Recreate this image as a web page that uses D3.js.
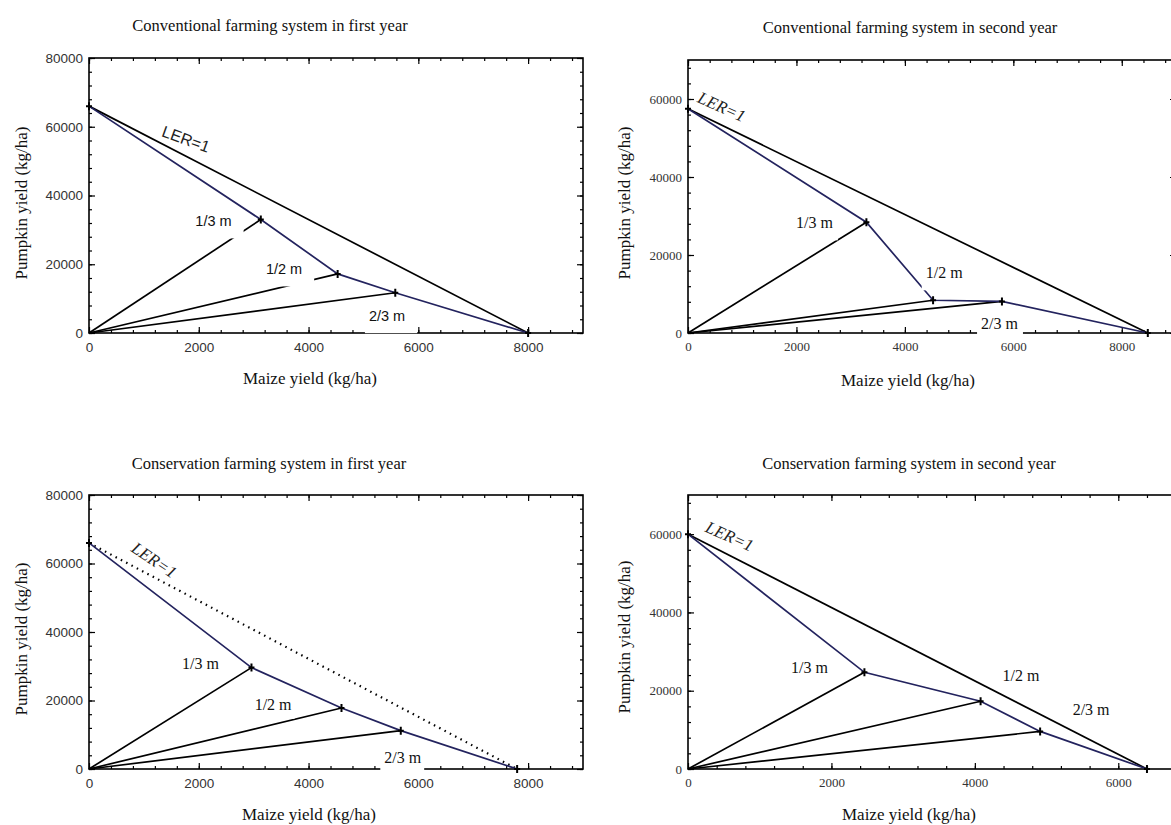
<!DOCTYPE html>
<html><head><meta charset="utf-8">
<script src="https://cdn.jsdelivr.net/npm/d3@7"></script>
<style>body{margin:0;background:#fff}svg{display:block}</style>
</head><body>
<svg id="c" width="1171" height="825"></svg>
<script>
// ---------- data ----------
const titles = [
  "Conventional farming system in first year",
  "Conventional farming system in second year",
  "Conservation farming system in first year",
  "Conservation farming system in second year"
];
const xAxisTitle = "Maize yield (kg/ha)";
const yAxisTitle = "Pumpkin yield (kg/ha)";
const mixLabels = ["1/3 m", "1/2 m", "2/3 m"];
const lerLabel = "LER=1";
// sole crop yields (LER=1 line end points)
const maizeSole   = [8000, 8480, 7800, 6400];
const pumpkinSole = [66000, 57500, 66000, 60000];
// intercrop yields for 1/3 m, 1/2 m, 2/3 m
const maizeMix   = [[3130, 4530, 5580], [3290, 4520, 5790], [2960, 4600, 5680], [2460, 4080, 4910]];
const pumpkinMix = [[33000, 17200, 11700], [28400, 8400, 8100], [29600, 17800, 11200], [24700, 17300, 9600]];
// axis extents and tick labels
const xMax = [9000, 9000, 9000, 7000];
const yMax = [80000, 70000, 80000, 70000];
const xTickLabels = [[0, 2000, 4000, 6000, 8000], [0, 2000, 4000, 6000, 8000], [0, 2000, 4000, 6000, 8000], [0, 2000, 4000, 6000]];
const yTickLabels = [[0, 20000, 40000, 60000, 80000], [0, 20000, 40000, 60000], [0, 20000, 40000, 60000, 80000], [0, 20000, 40000, 60000]];
// label anchor points, in data units
const mixLabelX = [[2268, 3553, 5430], [2331, 4724, 5745], [2032, 3354, 5716], [1695, 4642, 5621]];
const mixLabelY = [[32536, 18565, 4976], [28376, 15556, 2564], [30874, 18738, 3500], [25957, 23830, 15150]];
const lerLabelX = [1766, 621, 1185, 579];
const lerLabelY = [56364, 57950, 60971, 59404];

// ---------- layout / style ----------
const layout = [
  {x0: 89,  x1: 583,  y0: 333, y1: 58,  sans: true,  dotted: false, titleX: 270, titleY: 31,  xlabX: 310, xlabY: 384, ylabX: 21,  ylabY: 203, lerAng: 20, padR: 12, padB: 10},
  {x0: 688, x1: 1176, y0: 333, y1: 60,  sans: false, dotted: false, titleX: 910, titleY: 33,  xlabX: 908, xlabY: 386, ylabX: 624, ylabY: 203, lerAng: 24, padR: 5,  padB: 10},
  {x0: 89,  x1: 583,  y0: 769, y1: 495, sans: true,  dotted: true,  titleX: 269, titleY: 469, xlabX: 309, xlabY: 820, ylabX: 21,  ylabY: 639, lerAng: 34, padR: 3,  padB: 6},
  {x0: 688, x1: 1190, y0: 769, y1: 495, sans: false, dotted: false, titleX: 909, titleY: 469, xlabX: 909, xlabY: 820, ylabX: 624, ylabY: 637, lerAng: 24, padR: 3,  padB: 5}
];
const serif = "'Liberation Serif','Times New Roman',serif";
const sans = "'Liberation Sans',Arial,sans-serif";
const curveColor = "#23235e";

const svg = d3.select("#c");

layout.forEach((L, i) => {
  const g = svg.append("g");
  const x = d3.scaleLinear().domain([0, xMax[i]]).range([L.x0, L.x1]);
  const y = d3.scaleLinear().domain([0, yMax[i]]).range([L.y0, L.y1]);
  const tickFont = L.sans ? sans : serif;
  const labFont = (i === 0) ? sans : serif;

  g.append("text").attr("x", L.titleX).attr("y", L.titleY).attr("text-anchor", "middle")
    .attr("font-family", serif).attr("font-size", 16.5).attr("fill", "#111").text(titles[i]);
  g.append("text").attr("x", L.xlabX).attr("y", L.xlabY).attr("text-anchor", "middle")
    .attr("font-family", serif).attr("font-size", 17).attr("fill", "#111").text(xAxisTitle);
  g.append("text").attr("transform", `translate(${L.ylabX},${L.ylabY}) rotate(-90)`)
    .attr("text-anchor", "middle").attr("dominant-baseline", "central")
    .attr("font-family", serif).attr("font-size", 17).attr("fill", "#111").text(yAxisTitle);

  // minor ticks
  const xMinor = d3.range(0, xMax[i] + 1, 400);
  const yMinor = d3.range(0, yMax[i] + 1, 4000);
  const mk = (axis, tr) => {
    const a = g.append("g").attr("transform", tr).call(axis);
    a.select(".domain").remove();
    a.selectAll("line").attr("stroke", "#000").attr("stroke-width", 1.2);
    return a;
  };
  mk(d3.axisBottom(x).tickValues(xMinor).tickSize(-3).tickFormat(""), `translate(0,${L.y0})`);
  mk(d3.axisTop(x).tickValues(xMinor).tickSize(-3).tickFormat(""), `translate(0,${L.y1})`);
  mk(d3.axisLeft(y).tickValues(yMinor).tickSize(-3).tickFormat(""), `translate(${L.x0},0)`);
  mk(d3.axisRight(y).tickValues(yMinor).tickSize(-3).tickFormat(""), `translate(${L.x1},0)`);
  // major ticks
  const fmt = d3.format("d");
  const bx = mk(d3.axisBottom(x).tickValues(xTickLabels[i]).tickSize(-6).tickPadding(9).tickFormat(fmt), `translate(0,${L.y0})`);
  const ly = mk(d3.axisLeft(y).tickValues(yTickLabels[i]).tickSize(-6).tickPadding(6).tickFormat(fmt), `translate(${L.x0},0)`);
  mk(d3.axisTop(x).tickValues(xTickLabels[i]).tickSize(-6).tickFormat(""), `translate(0,${L.y1})`);
  mk(d3.axisRight(y).tickValues(yTickLabels[i]).tickSize(-6).tickFormat(""), `translate(${L.x1},0)`);
  [bx, ly].forEach(a => a.selectAll("text").attr("font-family", tickFont)
    .attr("font-size", L.sans ? 13.5 : 13).attr("fill", "#333"));

  // frame
  g.append("rect").attr("x", L.x0).attr("y", L.y1).attr("width", L.x1 - L.x0).attr("height", L.y0 - L.y1)
    .attr("fill", "none").attr("stroke", "#000").attr("stroke-width", 1.6);

  // rays from origin
  const line = d3.line().x(d => x(d[0])).y(d => y(d[1]));
  maizeMix[i].forEach((mx, j) => {
    g.append("path").attr("d", line([[0, 0], [mx, pumpkinMix[i][j]]]))
      .attr("fill", "none").attr("stroke", "#000").attr("stroke-width", 1.7);
  });
  // LER = 1 line
  g.append("path").attr("d", line([[0, pumpkinSole[i]], [maizeSole[i], 0]]))
    .attr("fill", "none").attr("stroke", "#000")
    .attr("stroke-width", L.dotted ? 2.2 : 1.7)
    .attr("stroke-dasharray", L.dotted ? "1.5,4.5" : null);
  // intercrop curve
  const pts = [[0, pumpkinSole[i]]].concat(maizeMix[i].map((m, j) => [m, pumpkinMix[i][j]])).concat([[maizeSole[i], 0]]);
  g.append("path").attr("d", line(pts)).attr("fill", "none").attr("stroke", curveColor).attr("stroke-width", 1.7);
  // markers
  pts.forEach(p => {
    const px = x(p[0]), py = y(p[1]);
    g.append("path").attr("d", `M${px - 3},${py}L${px + 3},${py}M${px},${py - 4}L${px},${py + 4}`)
      .attr("stroke", "#000").attr("stroke-width", 2);
  });

  // labels with white background boxes
  mixLabels.forEach((lab, j) => {
    const lx = x(mixLabelX[i][j]), lyy = y(mixLabelY[i][j]);
    const fs = (i === 0) ? 14.5 : 16;
    const t = g.append("text").attr("x", lx).attr("y", lyy).attr("text-anchor", "middle")
      .attr("dominant-baseline", "central").attr("font-family", labFont).attr("font-size", fs)
      .attr("fill", "#111").text(lab);
    const w = t.node().getComputedTextLength();
    g.insert("rect", () => t.node()).attr("x", lx - w / 2 - 4).attr("y", lyy - fs / 2 - 2)
      .attr("width", w + 4 + L.padR).attr("height", fs + 2 + L.padB).attr("fill", "#fff");
  });
  g.append("text").attr("transform", `translate(${x(lerLabelX[i])},${y(lerLabelY[i])}) rotate(${L.lerAng})`)
    .attr("text-anchor", "middle").attr("dominant-baseline", "central")
    .attr("font-family", labFont).attr("font-style", i === 0 ? "normal" : "italic")
    .attr("font-size", i === 0 ? 16 : 17).attr("fill", "#222").text(lerLabel);
});
</script>
</body></html>
